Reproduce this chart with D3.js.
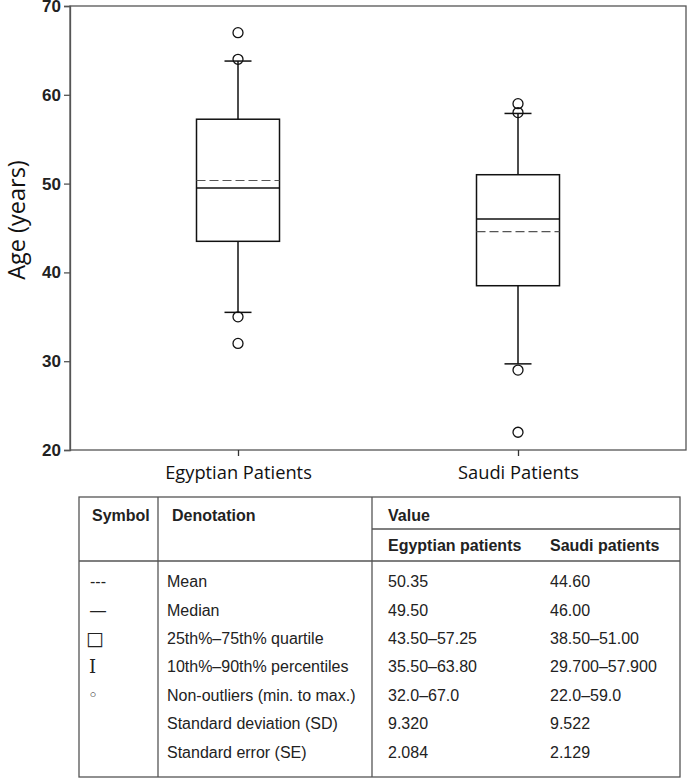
<!DOCTYPE html>
<html>
<head>
<meta charset="utf-8">
<script src="https://cdn.jsdelivr.net/npm/d3@7"></script>
<style>
  html, body { margin: 0; padding: 0; background: #fff; }
  svg { display: block; }
</style>
</head>
<body>
<svg id="chart" width="689" height="778"></svg>
<script>
// ---- Box plot data ----
const groups = ["Egyptian Patients", "Saudi Patients"];
const q1Values = [43.5, 38.5];
const q3Values = [57.25, 51.0];
const medianValues = [49.5, 46.0];
const meanValues = [50.35, 44.6];
const p10Values = [35.5, 29.7];
const p90Values = [63.8, 57.9];
const outlierValues = [[67, 64, 35, 32], [59, 58, 29, 22]];
const yTicks = [20, 30, 40, 50, 60, 70];

// ---- Table data ----
const tableSymbols = ["---", "\u2014", "\u25A1", "I", "\u25E6", "", ""];
const tableDenotations = ["Mean", "Median", "25th%\u201375th% quartile", "10th%\u201390th% percentiles",
  "Non-outliers (min. to max.)", "Standard deviation (SD)", "Standard error (SE)"];
const egyptianValues = ["50.35", "49.50", "43.50\u201357.25", "35.50\u201363.80", "32.0\u201367.0", "9.320", "2.084"];
const saudiValues = ["44.60", "46.00", "38.50\u201351.00", "29.700\u201357.900", "22.0\u201359.0", "9.522", "2.129"];

const svg = d3.select("#chart");
const plot = { left: 70, right: 686, top: 6, bottom: 450 };

const y = d3.scaleLinear().domain([20, 70]).range([plot.bottom, plot.top]);
const x = d3.scalePoint().domain(groups).range([plot.left, plot.right]).padding(0.6);
const boxW = 83, capW = 27;

// frame
svg.append("rect")
  .attr("x", plot.left).attr("y", plot.top)
  .attr("width", plot.right - plot.left).attr("height", plot.bottom - plot.top)
  .attr("fill", "none").attr("stroke", "#555").attr("stroke-width", 1.3);

// y axis
const yAxis = svg.append("g").attr("transform", `translate(${plot.left},0)`)
  .call(d3.axisLeft(y).tickValues(yTicks).tickSize(6).tickPadding(3));
yAxis.select(".domain").attr("stroke", "#555").attr("stroke-width", 1.3);
yAxis.selectAll(".tick line").attr("stroke", "#555").attr("stroke-width", 1.3);
yAxis.selectAll("text").attr("font-family", "Liberation Sans, Arial, sans-serif")
  .attr("font-size", 17).attr("font-weight", "bold").attr("fill", "#222");

// x axis
const xAxis = svg.append("g").attr("transform", `translate(0,${plot.bottom})`)
  .call(d3.axisBottom(x).tickSize(6).tickPadding(10));
xAxis.select(".domain").remove();
xAxis.selectAll(".tick line").attr("stroke", "#333").attr("stroke-width", 1.3);
xAxis.selectAll("text").attr("font-family", "Open Sans, sans-serif")
  .attr("font-size", 18.3).attr("fill", "#111");

// y title
svg.append("text")
  .attr("transform", `translate(25,${(plot.top + plot.bottom) / 2 - 8}) rotate(-90)`)
  .attr("text-anchor", "middle")
  .attr("font-family", "Open Sans, sans-serif").attr("font-size", 23.5).attr("fill", "#111")
  .text("Age (years)");

// boxes
groups.forEach((g, i) => {
  const cx = x(g);
  const gg = svg.append("g");
  gg.append("line").attr("x1", cx).attr("x2", cx).attr("y1", y(q3Values[i])).attr("y2", y(p90Values[i]))
    .attr("stroke", "#111").attr("stroke-width", 1.5);
  gg.append("line").attr("x1", cx).attr("x2", cx).attr("y1", y(q1Values[i])).attr("y2", y(p10Values[i]))
    .attr("stroke", "#111").attr("stroke-width", 1.5);
  [p90Values[i], p10Values[i]].forEach(v => {
    gg.append("line").attr("x1", cx - capW / 2).attr("x2", cx + capW / 2).attr("y1", y(v)).attr("y2", y(v))
      .attr("stroke", "#111").attr("stroke-width", 1.5);
  });
  gg.append("rect").attr("x", cx - boxW / 2).attr("y", y(q3Values[i]))
    .attr("width", boxW).attr("height", y(q1Values[i]) - y(q3Values[i]))
    .attr("fill", "none").attr("stroke", "#111").attr("stroke-width", 1.5);
  gg.append("line").attr("x1", cx - boxW / 2).attr("x2", cx + boxW / 2)
    .attr("y1", y(medianValues[i])).attr("y2", y(medianValues[i]))
    .attr("stroke", "#111").attr("stroke-width", 1.5);
  gg.append("line").attr("x1", cx - boxW / 2).attr("x2", cx + boxW / 2)
    .attr("y1", y(meanValues[i])).attr("y2", y(meanValues[i]))
    .attr("stroke", "#555").attr("stroke-width", 1.2).attr("stroke-dasharray", "9,4");
  outlierValues[i].forEach(v => {
    gg.append("circle").attr("cx", cx).attr("cy", y(v)).attr("r", 5)
      .attr("fill", "none").attr("stroke", "#111").attr("stroke-width", 1.3);
  });
});

// ---- Table ----
const tb = { left: 79, right: 680, top: 497, bottom: 777 };
const col1 = 158, col2 = 372, valueLine = 529, headBottom = 561;
const colX = { sym: 90, den: 167, egy: 388, sau: 550 };
const rowY = d3.scaleLinear().domain([0, 6]).range([581.5, 752]);
const tcol = "#555";
const tg = svg.append("g");
tg.append("rect").attr("x", tb.left).attr("y", tb.top).attr("width", tb.right - tb.left)
  .attr("height", tb.bottom - tb.top).attr("fill", "none").attr("stroke", tcol).attr("stroke-width", 1.3);
[[col1, tb.top, col1, tb.bottom], [col2, tb.top, col2, tb.bottom],
 [col2, valueLine, tb.right, valueLine], [tb.left, headBottom, tb.right, headBottom]].forEach(l => {
  tg.append("line").attr("x1", l[0]).attr("y1", l[1]).attr("x2", l[2]).attr("y2", l[3])
    .attr("stroke", tcol).attr("stroke-width", 1.3);
});
const font = "Liberation Sans, Arial, sans-serif";
function txt(xp, yp, s, bold, fam, size) {
  tg.append("text").attr("x", xp).attr("y", yp).attr("dy", "0.35em")
    .attr("font-family", fam || font).attr("font-size", size || 16)
    .attr("font-weight", bold ? "bold" : "normal").attr("fill", "#222").text(s);
}
txt(92, 515, "Symbol", true);
txt(172, 515, "Denotation", true);
txt(388, 515, "Value", true);
txt(388, 545, "Egyptian patients", true);
txt(550, 545, "Saudi patients", true);
tableDenotations.forEach((d, i) => {
  const yy = rowY(i);
  const s = tableSymbols[i];
  if (s === "I") txt(89, yy, s, false, "DejaVu Serif, serif", 18);
  else if (s === "\u25A1") txt(86, yy, s, false, "DejaVu Sans, sans-serif", 19);
  else if (s === "\u25E6") txt(88, yy, s, false, "DejaVu Sans, sans-serif", 17);
  else if (s) txt(colX.sym, yy, s, false);
  txt(colX.den, yy, d, false);
  txt(colX.egy, yy, egyptianValues[i], false);
  txt(colX.sau, yy, saudiValues[i], false);
});
</script>
</body>
</html>
